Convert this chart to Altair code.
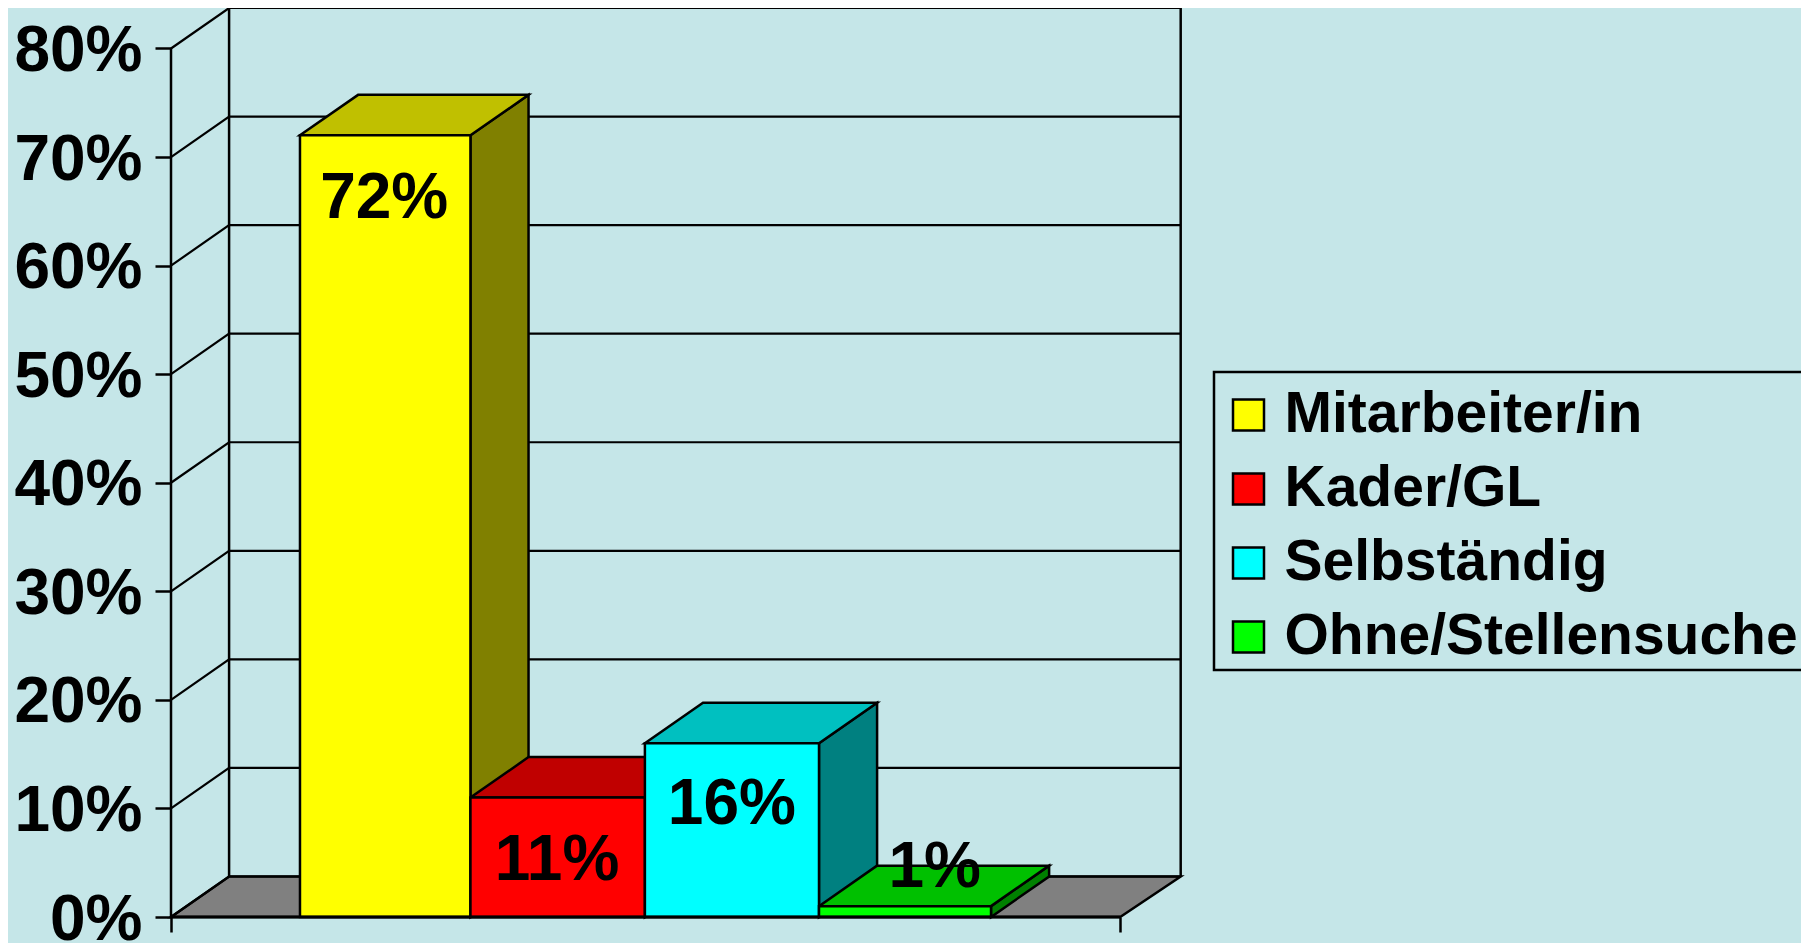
import altair as alt
import pandas as pd

categories = ["Mitarbeiter/in", "Kader/GL", "Selbständig", "Ohne/Stellensuche"]
values = [72, 11, 16, 1]
labels = ["72%", "11%", "16%", "1%"]
bar_edges = [0.746, 1.732, 2.741, 3.748, 4.743]
label_x = [1.233, 2.233, 3.244, 4.417]
label_y = [66.1, 5.2, 10.3, 4.5]
front_colors = ["#FFFF00", "#FF0000", "#00FFFF", "#00FF00"]
top_colors = ["#C0C000", "#C00000", "#00C0C0", "#00C000"]
side_colors = ["#808000", "#800000", "#008080", "#008000"]
ticks = [0, 10, 20, 30, 40, 50, 60, 70, 80]

BG = "#C5E6E8"
FONT = "Liberation Sans"
FLOOR_W = 5.49
BACK_R = 5.84
DX = 0.336
DY = 3.73
W = 1009
H = 909
XDOM = [0, 5.836]
YDOM = [0, 80 + DY]

xs = alt.Scale(domain=XDOM, nice=False, zero=False)
ys = alt.Scale(domain=YDOM, nice=False, zero=False)

axis_y = alt.Axis(
    values=ticks, labelExpr="datum.value + '%'", labelFont=FONT, labelFontWeight="bold",
    labelFontSize=64, labelColor="black", labelPadding=13, labelOffset=3, tickSize=16, tickWidth=2.5,
    tickColor="black", domain=False, grid=False, title=None, labelBaseline="middle",
)
axis_x = alt.Axis(
    values=[0, FLOOR_W], labels=False, tickSize=15, tickWidth=2.5, tickColor="black",
    domain=False, grid=False, title=None,
)


def X(name="x"):
    return alt.X(f"{name}:Q", scale=xs, axis=axis_x, title=None)


def Y(name="y"):
    return alt.Y(f"{name}:Q", scale=ys, axis=axis_y, title=None)


STROKE = dict(stroke="black", strokeWidth=2.5)

front, top, side = [], [], []
for i, (cat, v) in enumerate(zip(categories, values)):
    x0 = bar_edges[i]
    x1 = bar_edges[i + 1]
    front.append(dict(cat=cat, x=x0, x2=x1, y=v, y2=0))
    top += [
        dict(bar=i, face=top_colors[i], y=v, x=x0, x2=x1),
        dict(bar=i, face=top_colors[i], y=v + DY, x=x0 + DX, x2=x1 + DX),
    ]
    side += [
        dict(bar=i, face=side_colors[i], x=x1, y=v, y2=0),
        dict(bar=i, face=side_colors[i], x=x1 + DX, y=v + DY, y2=DY),
    ]

grid = []
for t in ticks:
    grid += [
        dict(t=t, o=0, x=0, y=t),
        dict(t=t, o=1, x=DX, y=t + DY),
        dict(t=t, o=2, x=BACK_R, y=t + DY),
    ]

floor = pd.DataFrame([
    dict(y=0, x=0, x2=FLOOR_W),
    dict(y=DY, x=DX, x2=BACK_R),
])

floor_l = alt.Chart(floor).mark_area(orient="horizontal", fill="#808080", **STROKE).encode(
    y=Y(), x=X(), x2="x2:Q"
)

grid_l = alt.Chart(pd.DataFrame(grid)).mark_line(color="black", strokeWidth=2.2).encode(
    x=X(), y=Y(), detail="t:N", order="o:Q"
)

walls = pd.DataFrame([
    dict(x=DX, y=DY, y2=80 + DY),
    dict(x=BACK_R, y=DY, y2=80 + DY),
    dict(x=0, y=0, y2=80),
])
walls_l = alt.Chart(walls).mark_rule(color="black", strokeWidth=2.5).encode(
    x=X(), y=Y(), y2="y2:Q"
)

base_line = pd.DataFrame([dict(x=0, x2=FLOOR_W, y=0)])
base_l = alt.Chart(base_line).mark_rule(color="black", strokeWidth=3).encode(
    x=X(), x2="x2:Q", y=Y()
)

side_l = alt.Chart(pd.DataFrame(side)).mark_area(**STROKE).encode(
    x=X(), y=Y(), y2="y2:Q", fill=alt.Fill("face:N", scale=None, legend=None), detail="bar:N"
)
top_l = alt.Chart(pd.DataFrame(top)).mark_area(orient="horizontal", **STROKE).encode(
    y=Y(), x=X(), x2="x2:Q", fill=alt.Fill("face:N", scale=None, legend=None), detail="bar:N"
)
legend = alt.Legend(
    title=" ", titleFontSize=1, titleLimit=10, titlePadding=9,
    orient="none", legendX=1043, legendY=364,
    fillColor=BG, strokeColor="black", padding=4.5,
    symbolType="square", symbolSize=961, symbolStrokeColor="black", symbolStrokeWidth=2.5,
    symbolOffset=1.5, labelOffset=7.5, labelFont=FONT, labelFontWeight="bold",
    labelFontSize=57, labelColor="black", labelLimit=700, rowPadding=16,
)
front_l = alt.Chart(pd.DataFrame(front)).mark_bar(**STROKE).encode(
    x=X(), x2="x2:Q", y=Y(), y2="y2:Q",
    fill=alt.Fill("cat:N", sort=categories,
                  scale=alt.Scale(domain=categories, range=front_colors), legend=legend),
)
text_l = alt.Chart(pd.DataFrame(dict(x=label_x, y=label_y, t=labels))).mark_text(
    font=FONT, fontWeight="bold", fontSize=64, color="black", baseline="middle", align="center"
).encode(x=X(), y=Y(), text="t:N")

chart = alt.layer(
    floor_l, grid_l, walls_l, side_l, top_l, front_l, base_l, text_l
).resolve_scale(fill="independent").properties(
    width=W, height=H, background=BG,
    autosize=alt.AutoSizeParams(type="none"),
    padding={"left": 163, "top": 0, "right": 621, "bottom": 26},
).configure_view(stroke=None).configure_legend(strokeWidth=2.5)

chart.save("out.html", embed_options={"renderer": "svg", "actions": False})
